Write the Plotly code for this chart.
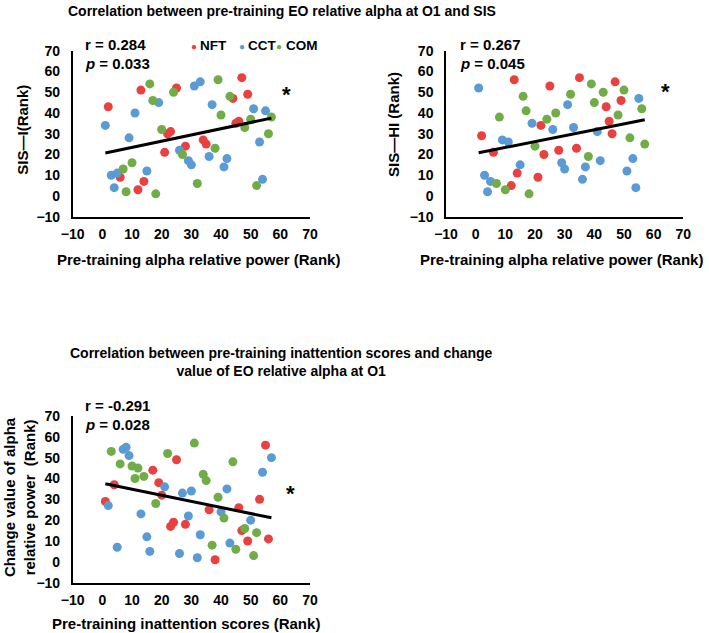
import plotly.graph_objects as go

# ---------------- data ----------------
GROUPS = ["NFT", "CCT", "COM"]
COLORS = {"NFT": "#E8413F", "CCT": "#5B9BD5", "COM": "#70AD47"}

# Panel A: SIS-I vs pre-training alpha
A_NFT_x = [2, 13, 25, 47, 49, 44, 46, 45, 22, 23, 21, 28, 34, 35, 6, 14, 12]
A_NFT_y = [43, 51, 52, 57, 49, 47, 36, 35, 30, 31, 21, 24, 27, 25, 9, 7, 3]
A_CCT_x = [1, 11, 9, 19, 3, 5, 4, 15, 31, 33, 37, 26, 29, 30, 36, 42, 41, 51, 55, 53, 54]
A_CCT_y = [34, 40, 28, 45, 10, 11, 4, 12, 53, 55, 44, 22, 17, 15, 19, 18, 14, 42, 41, 26, 8]
A_COM_x = [16, 17, 24, 39, 43, 40, 20, 27, 38, 32, 7, 10, 8, 18, 50, 48, 57, 56, 52]
A_COM_y = [54, 46, 50, 56, 48, 39, 32, 20, 23, 6, 13, 16, 2, 1, 37, 33, 38, 30, 5]
A_TREND = (20.4, 0.30)  # intercept, slope
A_STATS = ("0.284", "0.033")

# Panel B: SIS-HI vs pre-training alpha
B_NFT_x = [2, 6, 13, 14, 12, 21, 22, 23, 25, 28, 35, 34, 44, 45, 46, 47, 49]
B_NFT_y = [29, 21, 56, 11, 5, 9, 34, 20, 53, 22, 57, 23, 43, 36, 30, 55, 46]
B_CCT_x = [1, 3, 4, 5, 9, 11, 15, 19, 26, 31, 33, 29, 30, 36, 37, 41, 42, 51, 53, 54, 55]
B_CCT_y = [52, 10, 2, 7, 27, 26, 15, 35, 32, 44, 33, 16, 13, 8, 14, 31, 17, 12, 18, 4, 47]
B_COM_x = [8, 7, 10, 16, 17, 18, 20, 24, 27, 32, 39, 40, 38, 43, 48, 50, 52, 56, 57]
B_COM_y = [38, 6, 3, 48, 41, 1, 24, 37, 40, 49, 54, 45, 19, 50, 39, 51, 28, 42, 25]
B_TREND = (20.5, 0.284)
B_STATS = ("0.267", "0.045")

# Panel C: change of alpha vs pre-training inattention
C_NFT_x = [1, 4, 17, 19, 20, 25, 23, 24, 28, 36, 46, 53, 55, 47, 38, 49, 56]
C_NFT_y = [29, 37, 44, 38, 32, 49, 17, 19, 18, 25, 26, 30, 56, 15, 1, 10, 11]
C_CCT_x = [2, 7, 8, 9, 21, 27, 30, 13, 29, 42, 40, 50, 54, 57, 5, 15, 16, 26, 32, 33, 43]
C_CCT_y = [27, 54, 55, 51, 36, 33, 34, 23, 22, 35, 24, 20, 43, 50, 7, 12, 5, 4, 2, 13, 9]
C_COM_x = [3, 6, 10, 12, 11, 14, 22, 31, 18, 34, 35, 39, 44, 41, 48, 52, 37, 45, 51]
C_COM_y = [53, 47, 46, 45, 40, 41, 52, 57, 28, 42, 39, 31, 48, 21, 16, 14, 8, 6, 3]
C_TREND = (37.8, -0.292)
C_STATS = ("-0.291", "0.028")

AXIS_RANGE = [-10, 70]
TICK_STEP = 10

TITLE_TOP = "Correlation between pre-training EO relative alpha at O1 and SIS"
TITLE_BOTTOM = "Correlation between pre-training inattention scores and change<br>value of EO relative alpha at O1"
XT_A = "Pre-training alpha relative power (Rank)"
XT_B = "Pre-training alpha relative power (Rank)"
XT_C = "Pre-training inattention scores (Rank)"
YT_A = "SIS—I(Rank)"
YT_B = "SIS—HI (Rank)"
YT_C = "Change value of alpha<br>relative power  (Rank)"

# ---------------- layout helpers ----------------
W, H = 709, 633
def px(x):
    return x / W
def py(y):
    return 1 - y / H

FONT = "Liberation Sans, Arial, sans-serif"

fig = go.Figure()

panels = [
    ("x", "y", {"NFT": (A_NFT_x, A_NFT_y), "CCT": (A_CCT_x, A_CCT_y), "COM": (A_COM_x, A_COM_y)}, A_TREND),
    ("x2", "y2", {"NFT": (B_NFT_x, B_NFT_y), "CCT": (B_CCT_x, B_CCT_y), "COM": (B_COM_x, B_COM_y)}, B_TREND),
    ("x3", "y3", {"NFT": (C_NFT_x, C_NFT_y), "CCT": (C_CCT_x, C_CCT_y), "COM": (C_COM_x, C_COM_y)}, C_TREND),
]

for xa, ya, series, trend in panels:
    allx = []
    for g in GROUPS:
        xs, ys = series[g]
        allx += xs
        fig.add_trace(go.Scatter(
            x=xs, y=ys, mode="markers", name=g, xaxis=xa, yaxis=ya,
            marker=dict(color=COLORS[g], size=9, line=dict(width=0)),
            showlegend=False,
        ))
    b0, b1 = trend
    lx = [min(allx), max(allx)]
    fig.add_trace(go.Scatter(
        x=lx, y=[b0 + b1 * v for v in lx], mode="lines", xaxis=xa, yaxis=ya,
        line=dict(color="black", width=3), showlegend=False, hoverinfo="skip",
    ))

axis_common = dict(
    range=AXIS_RANGE, dtick=TICK_STEP, tick0=0, showgrid=False, zeroline=False,
    showline=True, linecolor="black", linewidth=1.5, ticks="",
    tickfont=dict(family=FONT, size=14, color="black", weight="bold"),
    fixedrange=True, automargin=False,
)
xaxis_common = dict(axis_common, ticklabelstandoff=4)
yaxis_common = dict(axis_common, ticklabelstandoff=8)

xdomA = [px(72.7), px(310)]
xdomB = [px(446), px(683.3)]
ydomTop = [py(216.7), py(50.7)]
ydomBot = [py(582.7), py(416)]

fig.update_layout(
    width=W, height=H,
    margin=dict(l=0, r=0, t=0, b=0),
    paper_bgcolor="white", plot_bgcolor="white",
    showlegend=False,
    xaxis=dict(domain=xdomA, anchor="y", **xaxis_common),
    yaxis=dict(domain=ydomTop, anchor="x", **yaxis_common),
    xaxis2=dict(domain=xdomB, anchor="y2", **xaxis_common),
    yaxis2=dict(domain=ydomTop, anchor="x2", **yaxis_common),
    xaxis3=dict(domain=xdomA, anchor="y3", **xaxis_common),
    yaxis3=dict(domain=ydomBot, anchor="x3", **yaxis_common),
)

ann = []
def text(x, y, t, size, xanchor="center", yanchor="middle", angle=0, family=FONT, color="black"):
    ann.append(dict(
        x=px(x), y=py(y), xref="paper", yref="paper", text=t, showarrow=False,
        xanchor=xanchor, yanchor=yanchor, textangle=angle,
        font=dict(family=family, size=size, color=color, weight="bold"),
    ))

# titles
text(281.5, 11, TITLE_TOP, 14)
text(281.5, 361.7, TITLE_BOTTOM, 14)

# axis titles
text(198, 259.3, XT_A, 15)
text(561.7, 259.3, XT_B, 15)
text(186, 623.3, XT_C, 15)
text(21.7, 130, YT_A, 15, angle=-90)
text(393, 125, YT_B, 15, angle=-90)
text(19, 497, YT_C, 15, angle=-90)

# stats
for (sx, sy, stats) in [(83.3, 45, A_STATS), (458, 45, B_STATS), (83.3, 405.7, C_STATS)]:
    text(sx, sy, "r = " + stats[0], 15, xanchor="left")
    text(sx, sy + 18.3, "<i>p</i> = " + stats[1], 15, xanchor="left")

# significance stars
for (sx, sy) in [(286, 90), (665, 86.7), (290, 488.3)]:
    text(sx, sy + 5, "*", 22)

# legend (top-left panel)
leg_y = 45.5
for g, dot_x, txt_x in [("NFT", 194, 197.5), ("CCT", 242, 246), ("COM", 278.5, 283.5)]:
    text(dot_x, leg_y + 0.5, "●", 10, color=COLORS[g])
    text(txt_x, leg_y, g, 13.5, xanchor="left")

fig.update_layout(annotations=ann)
fig.write_html(
    "out.html",
    config={"displayModeBar": False},
    post_script="document.body.style.margin='0';document.body.style.overflow='hidden';",
)
